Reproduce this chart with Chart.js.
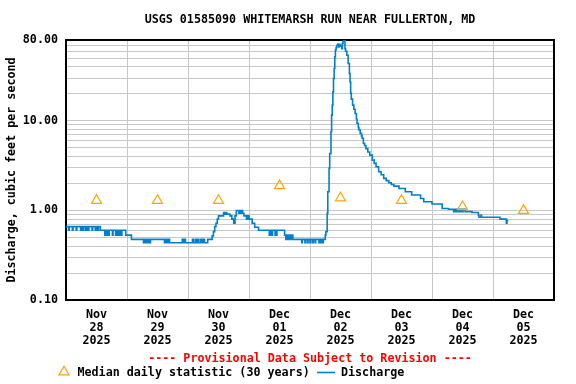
<!DOCTYPE html>
<html>
<head>
<meta charset="utf-8">
<script src="https://cdn.jsdelivr.net/npm/chart.js@4/dist/chart.umd.min.js"></script>
<style>
  html, body { margin: 0; padding: 0; background: #fff; }
  #wrap { width: 576px; height: 384px; }
</style>
</head>
<body>
<div id="wrap"><canvas id="hydro" width="576" height="384"></canvas></div>
<script>
// USGS 01585090 - 15 min discharge, hours since Nov 28 00:00
const flowHours = [
  0, 1.0, 1.25, 2.5, 2.75, 4.0, 4.25,
  5.75, 6.0, 6.25, 6.5, 6.75, 7.0,
  7.75, 8.0, 8.25, 8.5, 8.75, 9.0,
  10.25, 10.5,
  11.5, 11.75, 12.0, 12.25, 12.5, 12.75,
  13.5,
  15.25, 15.5, 15.75, 16.0, 16.25, 16.5, 16.75, 17.0,
  18.25, 18.5, 19.5, 19.75, 20.25, 20.5, 21.0, 21.25, 21.75, 22.0,
  23.5, 25.75,
  30.5, 30.75, 31.0, 31.25, 31.5, 31.75, 32.0, 32.25, 32.5, 32.75, 33.0, 33.25,
  38.75, 39.0, 39.5, 39.75, 40.25, 40.5, 40.75,
  45.75, 46.0, 46.25, 46.5, 46.75, 47.0,
  49.75, 50.25, 51.0, 51.25, 51.5, 52.0,
  52.75, 53.0, 53.25, 53.5, 53.75, 54.0, 54.25, 54.5,
  55.75, 57.5, 58.0, 58.5, 59.0, 59.5, 60.0,
  62.0, 62.25, 62.5, 62.75, 63.0, 63.25, 63.5,
  64.5, 65.25, 66.0, 66.5, 67.0,
  68.0, 68.25, 68.5, 68.75, 69.0, 69.25, 69.5,
  70.0, 71.0, 71.25, 71.5, 71.75, 72.0,
  73.25, 74.25, 75.75,
  80.0, 80.25, 80.5, 80.75, 81.0, 81.25,
  82.25, 82.5, 82.75, 83.0,
  86.0, 86.5, 86.75, 87.0, 87.25, 87.5, 87.75, 88.0, 88.25, 88.5, 88.75, 89.25,
  92.75, 93.0, 94.0, 94.25, 95.0, 95.25, 96.0, 96.25, 97.0, 97.25, 98.0, 98.25,
  99.5, 99.75, 100.0, 100.25, 100.5, 100.75, 101.0, 101.25,
  102.0, 102.25, 102.75, 103.0, 103.5, 103.75, 104.25, 104.5, 104.75, 105.0,
  105.25, 105.5, 105.75, 106.0, 106.25, 106.5, 107.0, 107.25, 107.5, 108.0,
  108.5, 108.75, 109.0, 109.5, 109.75,
  110.0, 110.5, 111.0, 111.5, 111.75, 112.0, 112.25, 112.75, 113.25, 113.75,
  114.25, 114.5, 115.0, 115.25, 115.75, 116.25, 116.5, 117.0, 117.5, 118.0,
  118.75, 119.5, 120.5, 121.25, 122.0, 123.0, 124.0, 125.0, 126.0, 127.0,
  128.0, 129.0, 131.0, 133.5, 136.0, 139.5, 140.75, 144.0, 148.0, 150.5,
  152.5, 152.75, 153.0, 153.25, 153.5, 154.0, 154.25, 154.75, 155.0, 155.5,
  156.0, 156.25, 157.0,
  159.75, 162.25, 162.5, 163.25, 163.5, 170.75, 173.25, 173.5, 174.0
];
const flowValues = [
  0.66, 0.60, 0.66, 0.60, 0.66, 0.60, 0.66,
  0.60, 0.66, 0.60, 0.66, 0.60, 0.66,
  0.60, 0.66, 0.60, 0.66, 0.60, 0.66,
  0.60, 0.66,
  0.60, 0.66, 0.60, 0.66, 0.60, 0.66,
  0.60,
  0.53, 0.60, 0.53, 0.60, 0.53, 0.60, 0.53, 0.60,
  0.53, 0.60, 0.53, 0.60, 0.53, 0.60, 0.53, 0.60, 0.53, 0.60,
  0.53, 0.475,
  0.435, 0.475, 0.435, 0.475, 0.435, 0.475, 0.435, 0.475, 0.435, 0.475, 0.435, 0.475,
  0.435, 0.475, 0.435, 0.475, 0.435, 0.475, 0.435,
  0.475, 0.435, 0.475, 0.435, 0.475, 0.435,
  0.475, 0.435, 0.475, 0.435, 0.475, 0.435,
  0.475, 0.435, 0.475, 0.435, 0.475, 0.435, 0.475, 0.435,
  0.475, 0.52, 0.58, 0.66, 0.72, 0.80, 0.87,
  0.95, 0.91, 0.95, 0.91, 0.95, 0.91, 0.91,
  0.87, 0.80, 0.72, 0.87, 1.0,
  0.93, 1.0, 0.93, 1.0, 0.93, 1.0, 0.93,
  0.87, 0.80, 0.87, 0.80, 0.87, 0.80,
  0.72, 0.65, 0.60,
  0.53, 0.60, 0.53, 0.60, 0.53, 0.60,
  0.53, 0.60, 0.53, 0.60,
  0.53, 0.475, 0.53, 0.475, 0.53, 0.475, 0.53, 0.475, 0.53, 0.475, 0.53, 0.475,
  0.435, 0.475, 0.435, 0.475, 0.435, 0.475, 0.435, 0.475, 0.435, 0.475, 0.435, 0.475,
  0.435, 0.475, 0.435, 0.475, 0.435, 0.475, 0.435, 0.475,
  0.53, 0.58, 0.93, 1.62, 2.95, 4.33, 7.55, 11.6, 15.0, 21.1,
  29.7, 38.5, 52, 61.9, 65.5, 70, 72, 67, 71, 68,
  64, 73, 78, 79, 64,
  60, 54, 43.8, 33.8, 27.2, 20.3, 17.5, 15.0, 13.5, 12.1,
  10.5, 9.4, 8.4, 7.9, 7.25, 6.8, 6.4, 5.6, 5.3, 4.9,
  4.5, 4.15, 3.65, 3.35, 3.07, 2.7, 2.5, 2.28, 2.15, 2.04,
  1.95, 1.87, 1.76, 1.62, 1.49, 1.36, 1.25, 1.18, 1.05, 1.03,
  0.97, 1.03, 0.97, 1.03, 0.97, 1.03, 0.97, 1.03, 0.97, 1.03,
  0.97, 1.03, 0.97,
  0.95, 0.88, 0.84, 0.88, 0.84, 0.80, 0.72, 0.77, 0.77
];

// median daily statistic (30 years), plotted at noon of each day
const medianHours = [12, 36, 60, 84, 108, 132, 156, 180];
const medianValues = [1.29, 1.29, 1.29, 1.89, 1.38, 1.29, 1.10, 1.00];

// axis labels
const dayMonths = ['Nov', 'Nov', 'Nov', 'Dec', 'Dec', 'Dec', 'Dec', 'Dec'];
const dayNumbers = ['28', '29', '30', '01', '02', '03', '04', '05'];
const dayYear = '2025';
const yGridValues = [0.1, 0.2, 0.3, 0.4, 0.5, 0.6, 0.7, 0.8, 0.9,
  1, 2, 3, 4, 5, 6, 7, 8, 9, 10, 20, 30, 40, 50, 60, 70, 80];
const yLabelValues = [0.1, 1, 10, 80];

const MONO = "'DejaVu Sans Mono', 'Liberation Mono', monospace";
const GRID = '#c8c8c8';
const FLOW_BLUE = '#0080cc';
const MEDIAN_ORANGE = '#ffa500';

const flowPoints = flowHours.map((h, i) => ({ x: h, y: flowValues[i] }));
const medianPoints = medianHours.map((h, i) => ({ x: h, y: medianValues[i] }));

// frame round the plot area
const framePlugin = {
  id: 'frame',
  beforeDatasetsDraw(chart) {
    const { ctx, chartArea: a } = chart;
    ctx.save();
    ctx.strokeStyle = '#000';
    ctx.lineWidth = 2;
    ctx.strokeRect(a.left, a.top, a.right - a.left, a.bottom - a.top);
    ctx.restore();
  }
};

// provisional note + legend under the axis
const footerPlugin = {
  id: 'footer',
  afterDraw(chart) {
    const ctx = chart.ctx;
    ctx.save();
    ctx.font = 'bold 11.7px ' + MONO;
    ctx.textBaseline = 'middle';
    ctx.textAlign = 'center';
    ctx.fillStyle = '#ff0000';
    ctx.fillText('---- Provisional Data Subject to Revision ----', 310, 359);

    ctx.textAlign = 'left';
    ctx.fillStyle = 'rgba(0,0,0,0)';
    ctx.strokeStyle = MEDIAN_ORANGE;
    ctx.lineWidth = 1.2;
    Chart.helpers.drawPoint(ctx, { pointStyle: 'triangle', radius: 5.8, rotation: 0, borderWidth: 1.2 }, 64, 372);
    ctx.fillStyle = '#000';
    ctx.fillText('Median daily statistic (30 years)', 77.5, 373);

    ctx.strokeStyle = FLOW_BLUE;
    ctx.lineWidth = 1.6;
    ctx.beginPath();
    ctx.moveTo(317, 372.5);
    ctx.lineTo(335, 372.5);
    ctx.stroke();
    ctx.fillText('Discharge', 341, 373);
    ctx.restore();
  }
};

new Chart(document.getElementById('hydro'), {
  type: 'line',
  data: {
    datasets: [
      {
        label: 'Median daily statistic (30 years)',
        data: medianPoints,
        showLine: false,
        pointStyle: 'triangle',
        pointRadius: 5.8,
        pointBorderWidth: 1.2,
        pointBorderColor: MEDIAN_ORANGE,
        pointBackgroundColor: 'rgba(0,0,0,0)',
        borderColor: MEDIAN_ORANGE
      },
      {
        label: 'Discharge',
        data: flowPoints,
        stepped: true,
        borderColor: FLOW_BLUE,
        borderWidth: 1.6,
        pointRadius: 0,
        fill: false
      }
    ]
  },
  options: {
    responsive: false,
    animation: false,
    devicePixelRatio: 1,
    layout: { padding: { left: 0, right: 22, top: 0, bottom: 0 } },
    plugins: {
      legend: { display: false },
      tooltip: { enabled: false },
      title: {
        display: true,
        fullSize: false,
        text: 'USGS 01585090 WHITEMARSH RUN NEAR FULLERTON, MD',
        color: '#000',
        font: { family: MONO, size: 11.7, weight: 'bold', lineHeight: '12px' },
        padding: { top: 14, bottom: 14 }
      }
    },
    scales: {
      x: {
        type: 'linear',
        min: 0,
        max: 192,
        afterBuildTicks: (scale) => {
          const t = [];
          for (const h of [0, 12, 24, 36, 48, 60, 72, 84, 96, 108, 120, 132, 144, 156, 168, 180, 192]) t.push({ value: h });
          scale.ticks = t;
        },
        afterFit: (scale) => { scale.height = 84; },
        grid: {
          drawTicks: false,
          color: (c) => (c.tick && c.tick.value % 24 === 0) ? GRID : 'rgba(0,0,0,0)',
          lineWidth: 1
        },
        border: { display: false },
        ticks: {
          autoSkip: false,
          maxRotation: 0,
          padding: 8,
          color: '#000',
          font: { family: MONO, size: 11.7, weight: 'bold', lineHeight: '13px' },
          callback: (v) => {
            if (v % 24 !== 12) return '';
            const i = (v - 12) / 24;
            return [dayMonths[i], dayNumbers[i], dayYear];
          }
        }
      },
      y: {
        type: 'logarithmic',
        min: 0.1,
        max: 80,
        afterBuildTicks: (scale) => {
          scale.ticks = yGridValues.map(v => ({ value: v }));
        },
        afterFit: (scale) => { scale.width = 66; },
        grid: { drawTicks: false, color: GRID, lineWidth: 1 },
        border: { display: false },
        ticks: {
          autoSkip: false,
          padding: 8,
          color: '#000',
          font: { family: MONO, size: 11.7, weight: 'bold' },
          callback: (v) => yLabelValues.includes(v) ? v.toFixed(2) : ''
        },
        title: {
          display: true,
          text: 'Discharge, cubic feet per second',
          color: '#000',
          font: { family: MONO, size: 11.7, weight: 'bold', lineHeight: '14px' },
          padding: { top: 5, bottom: 0 }
        }
      }
    }
  },
  plugins: [framePlugin, footerPlugin]
});
</script>
</body>
</html>
